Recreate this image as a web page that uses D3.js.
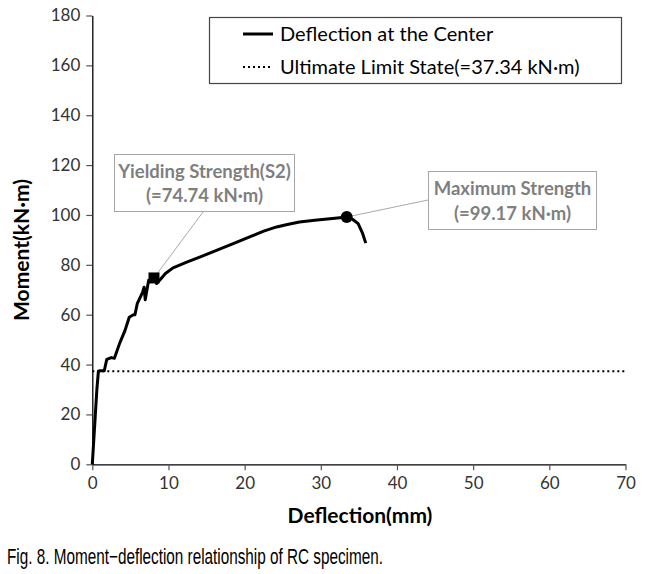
<!DOCTYPE html>
<html><head><meta charset="utf-8">
<script src="https://cdn.jsdelivr.net/npm/d3@7"></script>
<style>body{margin:0;background:#fff}svg{display:block}</style>
</head><body>
<script>
// Data
const deflection = [0,0.2,0.4,0.6,0.8,1.0,1.57,1.9,2.5,2.9,3.6,4.3,4.85,5.4,5.6,5.9,6.6,6.8,6.95,7.4,7.8,8.1,8.45,8.9,9.6,10.6,12.4,14.1,16.3,18.5,20.9,22.5,24.2,25.6,27.2,29.2,31.2,32.5,33.4,34.2,34.9,35.5,35.9];
const moment     = [0,10,20,30,37.3,37.5,37.5,42.1,42.8,42.5,48.6,53.7,59,60,60,64.4,69,71,66,73.8,73.5,74.74,72.5,74,76.5,78.8,81.1,83.1,85.8,88.5,91.5,93.5,95.2,96.2,97.2,97.9,98.5,98.9,99.17,98.2,96.5,92.5,88.7];
const ultimateLimit = 37.34;
const yieldPoint = {x: 8.1, y: 74.74};
const maxPoint = {x: 33.4, y: 99.17};
const xTicks = [0,10,20,30,40,50,60,70];
const yTicks = [0,20,40,60,80,100,120,140,160,180];
const legendLabels = ["Deflection at the Center", "Ultimate Limit State(=37.34 kN\u00b7m)"];
const yieldLabel = ["Yielding Strength(S2)", "(=74.74 kN\u00b7m)"];
const maxLabel = ["Maximum Strength", "(=99.17 kN\u00b7m)"];

const W = 653, H = 574;
const svg = d3.select("body").append("svg").attr("width", W).attr("height", H);
const font = "Lato, 'Open Sans', sans-serif";

const x = d3.scaleLinear().domain([0,70]).range([92.3,625.5]);
const y = d3.scaleLinear().domain([0,180]).range([464.3,15.5]);

// axes
const xAxis = svg.append("g").attr("transform", `translate(0,${y(0)})`)
  .call(d3.axisBottom(x).tickValues(xTicks).tickSize(6).tickSizeOuter(0).tickPadding(7));
const yAxis = svg.append("g").attr("transform", `translate(${x(0)},0)`)
  .call(d3.axisLeft(y).tickValues(yTicks).tickSize(6).tickSizeOuter(0).tickPadding(6));
[xAxis, yAxis].forEach(a => {
  a.select(".domain").attr("stroke", "#000").attr("stroke-width", 1.3);
  a.selectAll(".tick line").attr("stroke", "#555").attr("stroke-width", 1.2);
  a.selectAll("text").attr("font-family", font).attr("font-size", 17).attr("fill", "#333");
});

// ultimate limit line
svg.append("line").attr("x1", x(0)).attr("x2", x(70))
  .attr("y1", y(ultimateLimit)).attr("y2", y(ultimateLimit))
  .attr("stroke", "#000").attr("stroke-width", 2).attr("stroke-dasharray", "2,3");

// curve
const pts = deflection.map((d,i) => [d, moment[i]]);
svg.append("path").datum(pts)
  .attr("d", d3.line().x(d => x(d[0])).y(d => y(d[1])))
  .attr("fill", "none").attr("stroke", "#000").attr("stroke-width", 3).attr("stroke-linejoin", "round");

// leader lines
svg.append("line").attr("x1", x(yieldPoint.x)).attr("y1", y(yieldPoint.y)).attr("x2", 203).attr("y2", 212)
  .attr("stroke", "#aaa").attr("stroke-width", 1);
svg.append("line").attr("x1", x(maxPoint.x)).attr("y1", y(maxPoint.y)).attr("x2", 428).attr("y2", 200)
  .attr("stroke", "#aaa").attr("stroke-width", 1);

// markers
svg.append("rect").attr("x", x(yieldPoint.x) - 5.5).attr("y", y(yieldPoint.y) - 5.5)
  .attr("width", 11).attr("height", 11).attr("fill", "#000");
svg.append("circle").attr("cx", x(maxPoint.x)).attr("cy", y(maxPoint.y)).attr("r", 6).attr("fill", "#000");

// annotation boxes
function note(x0, y0, w, h, lines, baselines) {
  svg.append("rect").attr("x", x0).attr("y", y0).attr("width", w).attr("height", h)
    .attr("fill", "#fff").attr("stroke", "#a6a6a6").attr("stroke-width", 1);
  lines.forEach((t, i) => svg.append("text").attr("x", x0 + w/2).attr("y", baselines[i])
    .attr("text-anchor", "middle").attr("font-family", font).attr("font-weight", "bold")
    .attr("font-size", 18.5).attr("fill", "#7f7f7f").text(t));
}
note(114.5, 154.5, 180, 57, yieldLabel, [178, 202]);
note(428.5, 171.5, 168, 58, maxLabel, [195, 220]);

// legend
svg.append("rect").attr("x", 209.5).attr("y", 17.5).attr("width", 412).attr("height", 66)
  .attr("fill", "#fff").attr("stroke", "#444").attr("stroke-width", 1.2);
svg.append("line").attr("x1", 243).attr("x2", 273).attr("y1", 34).attr("y2", 34)
  .attr("stroke", "#000").attr("stroke-width", 3);
svg.append("line").attr("x1", 243).attr("x2", 273).attr("y1", 67).attr("y2", 67)
  .attr("stroke", "#000").attr("stroke-width", 2).attr("stroke-dasharray", "2,3");
legendLabels.forEach((t, i) => svg.append("text").attr("x", 280).attr("y", 41 + i*33)
  .attr("font-family", font).attr("font-size", 20).attr("fill", "#000").text(t));

// axis titles
svg.append("text").attr("x", 360).attr("y", 523).attr("text-anchor", "middle")
  .attr("font-family", font).attr("font-weight", "bold").attr("font-size", 21).text("Deflection(mm)");
svg.append("text").attr("transform", "translate(29,250) rotate(-90)").attr("text-anchor", "middle")
  .attr("font-family", font).attr("font-weight", "bold").attr("font-size", 21).text("Moment(kN\u00b7m)");

// caption
svg.append("text").attr("x", 7).attr("y", 564).attr("font-family", "'Liberation Sans', Arial, sans-serif")
  .attr("font-size", 22).attr("textLength", 376).attr("lengthAdjust", "spacingAndGlyphs")
  .text("Fig. 8. Moment\u2212deflection relationship of RC specimen.");
</script>
</body></html>
